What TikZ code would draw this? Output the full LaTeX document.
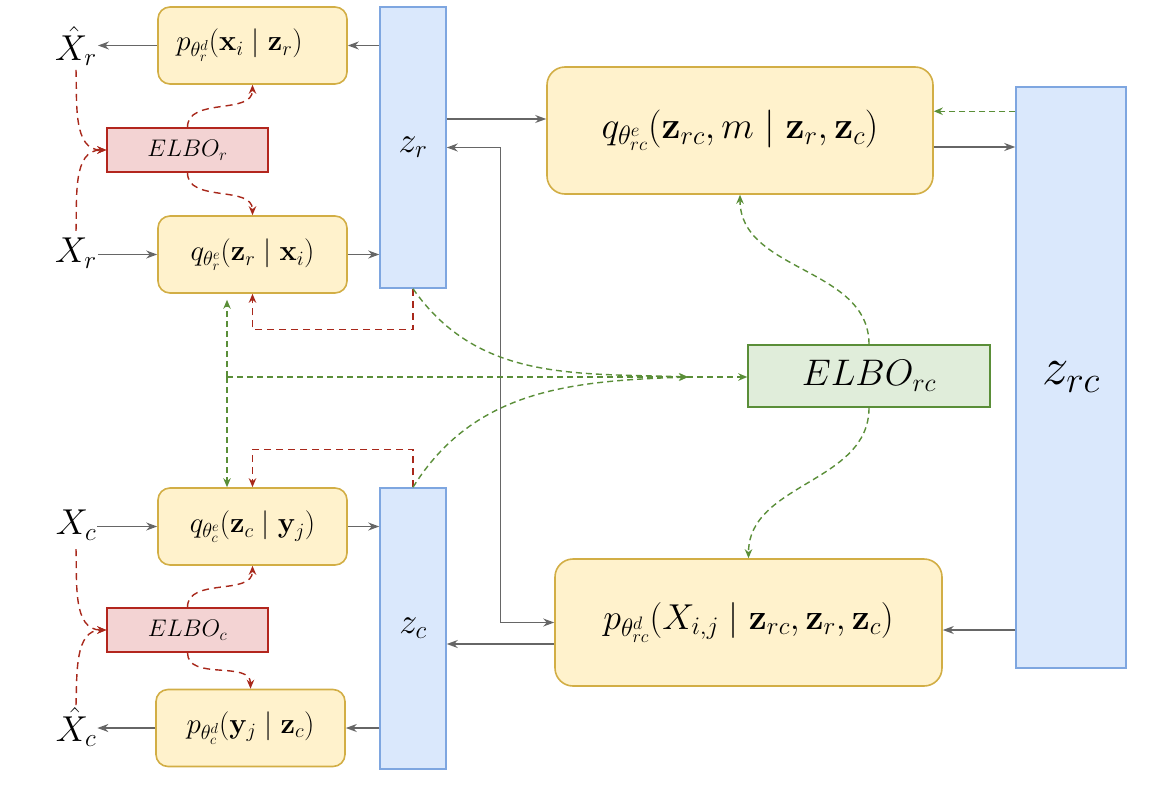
\documentclass[tikz,border=0pt]{standalone}
\usepackage{fix-cm}
\usepackage{amsmath}
\usetikzlibrary{arrows.meta,calc}
\definecolor{yfill}{HTML}{FFF2CC}
\definecolor{ystroke}{HTML}{D2AE45}
\definecolor{bfill}{HTML}{DAE8FC}
\definecolor{bstroke}{HTML}{7EA6E0}
\definecolor{rfill}{HTML}{F3D3D3}
\definecolor{rstroke}{HTML}{B3261E}
\definecolor{gfill}{HTML}{E0EDDA}
\definecolor{gstroke}{HTML}{5A8E38}
\definecolor{arrgray}{HTML}{666666}
\definecolor{rdashc}{HTML}{A8281B}
\definecolor{gdashc}{HTML}{5A8E38}
\begin{document}
\begin{tikzpicture}[x=1pt,y=-1pt,
  ybox/.style={draw=ystroke, fill=yfill, line width=1.6pt, rounded corners=12pt,
    minimum width=189pt, minimum height=77pt, inner sep=0pt, font=\fontsize{29}{33}\selectfont},
  bigybox/.style={ybox, rounded corners=18pt, minimum width=386pt, minimum height=127pt,
    font=\fontsize{36}{40}\selectfont},
  zbox/.style={draw=bstroke, fill=bfill, line width=1.5pt, inner sep=0pt,
    minimum width=66pt, minimum height=281pt, font=\fontsize{36}{40}\selectfont},
  rbox/.style={draw=rstroke, fill=rfill, line width=1.5pt, inner sep=0pt,
    minimum width=161pt, minimum height=44pt, font=\fontsize{24}{28}\selectfont},
  gbox/.style={draw=gstroke, fill=gfill, line width=1.5pt, inner sep=0pt,
    minimum width=242pt, minimum height=62pt, font=\fontsize{37}{42}\selectfont},
  xlabel/.style={inner sep=1pt, font=\fontsize{36}{40}\selectfont},
  garrow/.style={draw=arrgray, line width=1.4pt, -{Stealth[length=11pt,width=8pt]}},
  rdash/.style={draw=rdashc, line width=1.4pt, dash pattern=on 7pt off 5pt,
    -{Stealth[length=9pt,width=7.5pt]}},
  gdash/.style={draw=gdashc, line width=1.4pt, dash pattern=on 6pt off 4pt,
    -{Stealth[length=9pt,width=7.5pt]}}
]
\useasboundingbox (0,0) rectangle (1155,787);

% ---- nodes
\node[ybox] (pr) at (252.5,45.5) {$p_{\theta_r^d}(\mathbf{x}_i \mid \mathbf{z}_r)$\hspace*{26pt}};
\node[ybox] (qr) at (252.5,254.5) {$q_{\theta_r^e}(\mathbf{z}_r \mid \mathbf{x}_i)$};
\node[ybox] (qc) at (252.5,526.5) {$q_{\theta_c^e}(\mathbf{z}_c \mid \mathbf{y}_j)$};
\node[ybox] (pc) at (250.5,728) {$p_{\theta_c^d}(\mathbf{y}_j \mid \mathbf{z}_c)$};
\node[zbox] (zr) at (413,147.5) {$z_r$};
\node[zbox] (zc) at (413,628.5) {$z_c$};
\node[rbox] (er) at (187.5,150) {$ELBO_r$};
\node[rbox] (ec) at (187.5,630) {$ELBO_c$};
\node[bigybox, font=\fontsize{38}{42}\selectfont] (qrc) at (740,130.5) {$q_{\theta_{rc}^e}(\mathbf{z}_{rc}, m \mid \mathbf{z}_r, \mathbf{z}_c)$};
\node[bigybox, minimum width=387pt] (prc) at (748.5,622.5) {$p_{\theta_{rc}^d}(X_{i,j} \mid \mathbf{z}_{rc}, \mathbf{z}_r, \mathbf{z}_c)$};
\node[zbox, minimum width=110pt, minimum height=581pt, font=\fontsize{53}{60}\selectfont] (zrc) at (1071,377.5) {$z_{rc}$};
\node[gbox] (erc) at (869,376) {$ELBO_{rc}$};
\node[xlabel] (Xhr) at (76,46) {$\hat{X}_r$};
\node[xlabel] (Xr) at (76,253) {$X_r$};
\node[xlabel] (Xc) at (76,525) {$X_c$};
\node[xlabel] (Xhc) at (76,727) {$\hat{X}_c$};

% ---- gray arrows, left column
\draw[garrow] (pr.east -| zr.west) -- (pr.east);
\draw[garrow] (pr.west) -- (pr.west -| Xhr.east);
\draw[garrow] (qr.west -| Xr.east) -- (qr.west);
\draw[garrow] (qr.east) -- (qr.east -| zr.west);
\draw[garrow] (qc.west -| Xc.east) -- (qc.west);
\draw[garrow] (qc.east) -- (qc.east -| zc.west);
\draw[garrow] (pc.east -| zc.west) -- (pc.east);
\draw[garrow] (pc.west) -- (pc.west -| Xhc.east);

% ---- gray arrows, right part
\coordinate (a1) at ([yshift=11.5pt]qrc.west);
\draw[garrow] (a1 -| zr.east) -- (a1);
\coordinate (a2) at ([yshift=-16.5pt]qrc.east);
\draw[garrow] (a2) -- (a2 -| zrc.west);
\draw[garrow, {Stealth[length=11pt,width=8pt]}-{Stealth[length=11pt,width=8pt]}]
  (zr.east) -- ++(54,0) |- (prc.west);
\coordinate (a3) at ([yshift=-21.5pt]prc.west);
\draw[garrow] (a3) -- (a3 -| zc.east);
\coordinate (a4) at ([yshift=-7.5pt]prc.east);
\draw[garrow] (a4 -| zrc.west) -- (a4);

% ---- red dashed
\draw[rdash] ([yshift=-3pt]Xhr.south) to[out=-88,in=180] (er.west);
\draw[rdash] ([yshift=6pt]Xr.north) to[out=88,in=180] (er.west);
\draw[rdash] (er.north) to[out=90,in=-90] (pr.south);
\draw[rdash] (er.south) to[out=-90,in=90] (qr.north);
\draw[rdash] ([yshift=-8pt]Xc.south) to[out=-88,in=180] (ec.west);
\draw[rdash] ([yshift=1pt]Xhc.north) to[out=88,in=180] (ec.west);
\draw[rdash] (ec.north) to[out=90,in=-90] (qc.south);
\draw[rdash] (ec.south) to[out=-90,in=90] (pc.north);
\draw[rdash] (zr.south) -- ++(0,41) -| (qr.south);
\draw[rdash] (zc.north) -- ++(0,-38) -| (qc.north);

% ---- green dashed
\coordinate (gj) at (227,377);
\coordinate (gt) at (688,377);
\draw[gdash, line width=2pt] (gj) -- (gj -| erc.west);
\draw[gdash, shorten >=6pt] (gj) -- (gj |- qr.south);
\draw[gdash] (gj) -- (gj |- qc.north);
\draw[gdash] (zr.south) to[out=-55,in=178] (gt);
\draw[gdash] (zc.north) to[out=58,in=182] (gt);
\draw[gdash] (erc.north) to[out=90,in=-90] (qrc.south);
\draw[gdash] (erc.south) to[out=-90,in=90] (prc.north);
\coordinate (g1) at ([yshift=-25pt]zrc.north west);
\draw[gdash] (g1) -- (g1 -| qrc.east);
\end{tikzpicture}
\end{document}
